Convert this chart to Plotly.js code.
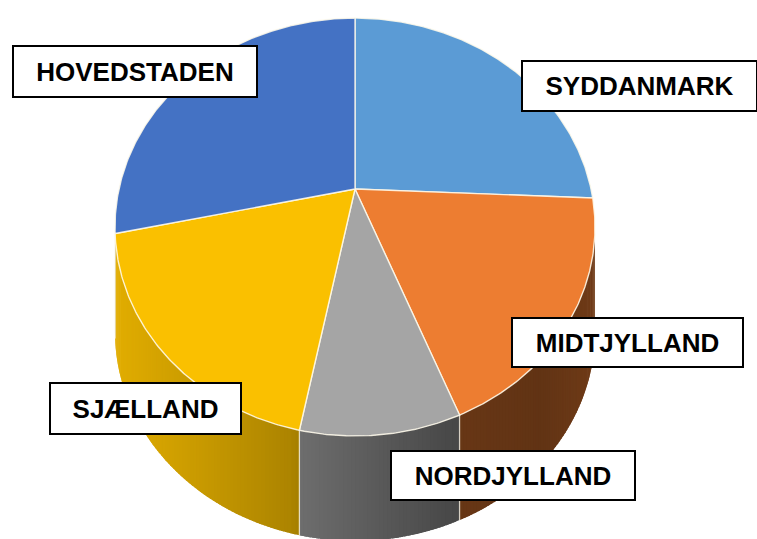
<!DOCTYPE html>
<html>
<head>
<meta charset="utf-8">
<script src="https://cdn.plot.ly/plotly-3.0.1.min.js"></script>
<style>
  html, body { margin: 0; padding: 0; background: #ffffff; }
  #chart { width: 757px; height: 539px; }
</style>
</head>
<body>
<div id="chart"></div>
<script>
// ---- Data ----
const regions = ['SYDDANMARK', 'MIDTJYLLAND', 'NORDJYLLAND', 'SJÆLLAND', 'HOVEDSTADEN'];
const shares = [25.7, 18.3, 9.1, 18.5, 28.4];
const sliceColors = ['#5B9BD5', '#ED7D31', '#A5A5A5', '#FAC000', '#4472C4'];

// ---- Label boxes (left, top, width, height in px) ----
const labelBoxes = {
  'HOVEDSTADEN': [12, 45, 246, 53],
  'SYDDANMARK': [521, 60, 237, 52],
  'MIDTJYLLAND': [511, 317, 233, 51],
  'SJÆLLAND': [49, 382, 193, 53],
  'NORDJYLLAND': [390, 450, 246, 51]
};

// ---- 3D pie projection (perspective-tilted disc, extruded downward) ----
const W = 757, H = 539;
const cx = 355, apexY = 189, A = 236, B = 202, k = 0.182, depth = 105;

function rim(tDeg) {
  const t = tDeg * Math.PI / 180;
  const x = Math.sin(t), y = Math.cos(t);
  const w = 1 + k * y;
  return [cx + A * x / w, apexY - B * (y / w)];
}

// visible side spans from the right silhouette to the left silhouette
const tRight = 90 + Math.asin(k) * 180 / Math.PI;
const tLeft = 270 - Math.asin(k) * 180 / Math.PI;

// side shading (lighting from the left)
const shadeX = [116, 200, 290, 300, 450, 540, 595];
const shadeF = [0.90, 0.80, 0.69, 0.66, 0.44, 0.41, 0.47];
function shadeAt(x) {
  if (x <= shadeX[0]) return shadeF[0];
  for (let i = 1; i < shadeX.length; i++) {
    if (x <= shadeX[i]) {
      const r = (x - shadeX[i - 1]) / (shadeX[i] - shadeX[i - 1]);
      return shadeF[i - 1] + r * (shadeF[i] - shadeF[i - 1]);
    }
  }
  return shadeF[shadeF.length - 1];
}
function hexToRgb(h) {
  const n = parseInt(h.slice(1), 16);
  return [(n >> 16) & 255, (n >> 8) & 255, n & 255];
}
function shaded(hex, f) {
  const c = hexToRgb(hex).map(v => Math.max(0, Math.min(255, Math.round(v * f))));
  return 'rgb(' + c.join(',') + ')';
}

const total = shares.reduce((a, b) => a + b, 0);
const bounds = [0];
shares.forEach(s => bounds.push(bounds[bounds.length - 1] + s / total * 360));

const traces = [];
const edgeColor = 'rgba(255,250,235,0.85)';

// sides: thin strips, each overlapping the next to avoid seams
regions.forEach((name, i) => {
  const t0 = Math.max(bounds[i], tRight);
  const t1 = Math.min(bounds[i + 1], tLeft);
  if (t1 <= t0) return;
  const n = Math.max(2, Math.ceil((t1 - t0) / 0.8));
  const step = (t1 - t0) / n;
  for (let j = 0; j < n; j++) {
    const a = t0 + step * j;
    const b = Math.min(t1, a + step * 1.8);
    const m = a + step / 2;
    const xs = [], ys = [];
    const ns = 4;
    for (let s = 0; s <= ns; s++) {
      const p = rim(a + (b - a) * s / ns);
      xs.push(p[0]); ys.push(p[1]);
    }
    for (let s = ns; s >= 0; s--) {
      const p = rim(a + (b - a) * s / ns);
      xs.push(p[0]); ys.push(p[1] + depth);
    }
    const col = shaded(sliceColors[i], shadeAt(rim(m)[0]));
    traces.push({
      type: 'scatter', mode: 'lines', fill: 'toself', fillcolor: col,
      x: xs, y: ys,
      line: { width: 0 }, hoverinfo: 'skip', showlegend: false
    });
  }
});
// vertical edges between side faces
bounds.slice(1, -1).forEach(t => {
  if (t > tRight && t < tLeft) {
    const p = rim(t);
    traces.push({
      type: 'scatter', mode: 'lines', x: [p[0], p[0]], y: [p[1], p[1] + depth],
      line: { color: 'rgba(255,250,235,0.7)', width: 1.3 }, hoverinfo: 'skip', showlegend: false
    });
  }
});

// top faces
regions.forEach((name, i) => {
  const t0 = bounds[i], t1 = bounds[i + 1];
  const xs = [cx], ys = [apexY];
  const n = Math.max(4, Math.ceil((t1 - t0) / 0.5));
  for (let j = 0; j <= n; j++) {
    const p = rim(t0 + (t1 - t0) * j / n);
    xs.push(p[0]); ys.push(p[1]);
  }
  xs.push(cx); ys.push(apexY);
  traces.push({
    type: 'scatter', mode: 'lines', fill: 'toself', fillcolor: sliceColors[i],
    x: xs, y: ys, name: name,
    line: { color: edgeColor, width: 1.4 }, hoverinfo: 'skip', showlegend: false
  });
});

// labels
const annotations = regions.map(name => {
  const b = labelBoxes[name];
  return {
    xref: 'paper', yref: 'paper', x: b[0] / W, y: 1 - b[1] / H,
    xanchor: 'left', yanchor: 'top', showarrow: false,
    text: '<b>' + name + '</b>',
    font: { family: 'Liberation Sans, Arial, sans-serif', size: 26, color: '#000000' },
    width: b[2] - 4, height: b[3] - 4, align: 'center', valign: 'middle',
    bgcolor: '#ffffff', bordercolor: '#000000', borderwidth: 2, borderpad: 0
  };
});

const layout = {
  width: W, height: H,
  margin: { l: 0, r: 0, t: 0, b: 0 },
  paper_bgcolor: '#ffffff', plot_bgcolor: '#ffffff',
  xaxis: { range: [0, W], visible: false, fixedrange: true },
  yaxis: { range: [H, 0], visible: false, fixedrange: true },
  showlegend: false, hovermode: false,
  annotations: annotations
};

Plotly.newPlot('chart', traces, layout, { displayModeBar: false, staticPlot: true });
</script>
</body>
</html>
